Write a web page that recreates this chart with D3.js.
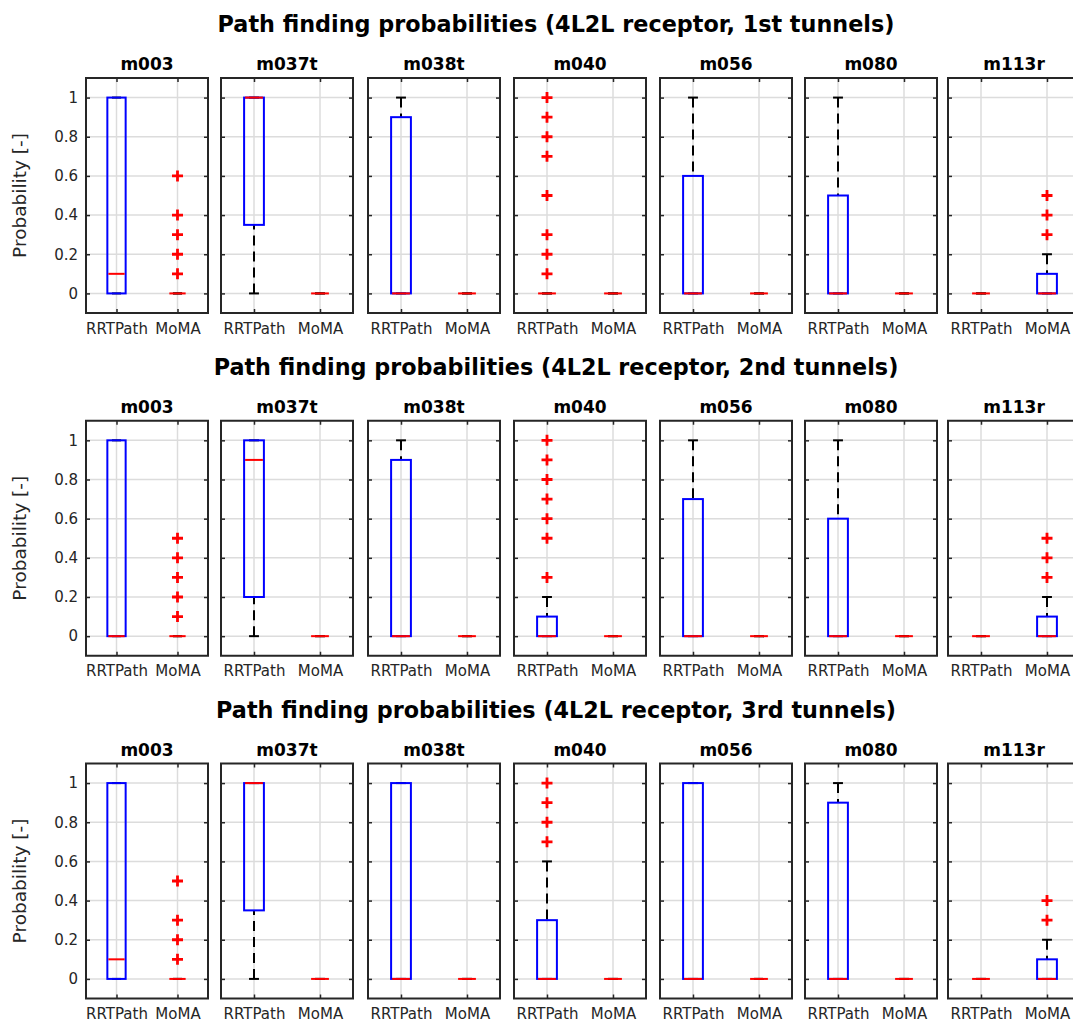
<!DOCTYPE html>
<html>
<head>
<meta charset="utf-8">
<script src="https://cdn.jsdelivr.net/npm/d3@7"></script>
<style>
    body { margin: 0; background: #fff; }
    svg { display: block; font-family: "DejaVu Sans", sans-serif; }
</style>
</head>
<body>
<div id="chart"></div>
<script>
// chart data
const rowTitles = [
    "Path finding probabilities (4L2L receptor, 1st tunnels)",
    "Path finding probabilities (4L2L receptor, 2nd tunnels)",
    "Path finding probabilities (4L2L receptor, 3rd tunnels)"
];
const models = ["m003", "m037t", "m038t", "m040", "m056", "m080", "m113r"];
const methods = ["RRTPath", "MoMA"];
const yTicks = [0, 0.2, 0.4, 0.6, 0.8, 1];

// box stats per model: [RRTPath, MoMA], each [lowWhisker, q1, median, q3, highWhisker]
const boxes1st = [
    [[0, 0, 0.1, 1, 1], [0, 0, 0, 0, 0]],
    [[0, 0.35, 1, 1, 1], [0, 0, 0, 0, 0]],
    [[0, 0, 0, 0.9, 1], [0, 0, 0, 0, 0]],
    [[0, 0, 0, 0, 0], [0, 0, 0, 0, 0]],
    [[0, 0, 0, 0.6, 1], [0, 0, 0, 0, 0]],
    [[0, 0, 0, 0.5, 1], [0, 0, 0, 0, 0]],
    [[0, 0, 0, 0, 0], [0, 0, 0, 0.1, 0.2]]
];
const outliers1st = [
    [[], [0.1, 0.2, 0.3, 0.4, 0.6]],
    [[], []],
    [[], []],
    [[0.1, 0.2, 0.3, 0.5, 0.7, 0.8, 0.9, 1], []],
    [[], []],
    [[], []],
    [[], [0.3, 0.4, 0.5]]
];

const boxes2nd = [
    [[0, 0, 0, 1, 1], [0, 0, 0, 0, 0]],
    [[0, 0.2, 0.9, 1, 1], [0, 0, 0, 0, 0]],
    [[0, 0, 0, 0.9, 1], [0, 0, 0, 0, 0]],
    [[0, 0, 0, 0.1, 0.2], [0, 0, 0, 0, 0]],
    [[0, 0, 0, 0.7, 1], [0, 0, 0, 0, 0]],
    [[0, 0, 0, 0.6, 1], [0, 0, 0, 0, 0]],
    [[0, 0, 0, 0, 0], [0, 0, 0, 0.1, 0.2]]
];
const outliers2nd = [
    [[], [0.1, 0.2, 0.3, 0.4, 0.5]],
    [[], []],
    [[], []],
    [[0.3, 0.5, 0.6, 0.7, 0.8, 0.9, 1], []],
    [[], []],
    [[], []],
    [[], [0.3, 0.4, 0.5]]
];

const boxes3rd = [
    [[0, 0, 0.1, 1, 1], [0, 0, 0, 0, 0]],
    [[0, 0.35, 1, 1, 1], [0, 0, 0, 0, 0]],
    [[0, 0, 0, 1, 1], [0, 0, 0, 0, 0]],
    [[0, 0, 0, 0.3, 0.6], [0, 0, 0, 0, 0]],
    [[0, 0, 0, 1, 1], [0, 0, 0, 0, 0]],
    [[0, 0, 0, 0.9, 1], [0, 0, 0, 0, 0]],
    [[0, 0, 0, 0, 0], [0, 0, 0, 0.1, 0.2]]
];
const outliers3rd = [
    [[], [0.1, 0.2, 0.3, 0.5]],
    [[], []],
    [[], []],
    [[0.7, 0.8, 0.9, 1], []],
    [[], []],
    [[], []],
    [[], [0.3, 0.4]]
];

const rows = [
    { title: rowTitles[0], boxes: boxes1st, outliers: outliers1st },
    { title: rowTitles[1], boxes: boxes2nd, outliers: outliers2nd },
    { title: rowTitles[2], boxes: boxes3rd, outliers: outliers3rd }
];

// layout
const W = 1073, H = 1023;
const panelLeft = [86, 221, 368, 514, 660, 805, 948];
const panelWidth = [122, 132, 132, 132, 132, 132, 132];
const rowTop = 78, rowStep = 342.75, panelHeight = 235;
const boxWidth = 0.3, capWidth = 0.15;
const axisColor = "#262626", gridColor = "#dcdcdc";
const blue = "#0000ff", red = "#ff0000";

const svg = d3.select("#chart").append("svg")
    .attr("width", W)
    .attr("height", H);

rows.forEach((row, r) => {
    const top = rowTop + r * rowStep;

    svg.append("text")
        .attr("x", 556)
        .attr("y", top - 46)
        .attr("text-anchor", "middle")
        .style("font-size", "22.3px")
        .style("font-weight", "bold")
        .style("fill", "#000")
        .text(row.title);

    models.forEach((model, m) => {
        const left = panelLeft[m], w = panelWidth[m];
        const x = d3.scaleLinear().domain([0.5, 2.5]).range([left, left + w]);
        const y = d3.scaleLinear().domain([-0.1, 1.1]).range([top + panelHeight, top]);
        const g = svg.append("g");

        // grid
        g.selectAll(".gy").data(yTicks).enter().append("line")
            .attr("x1", left).attr("x2", left + w)
            .attr("y1", d => y(d)).attr("y2", d => y(d))
            .style("stroke", gridColor).style("stroke-width", 1.5);
        g.selectAll(".gx").data([1, 2]).enter().append("line")
            .attr("x1", d => x(d)).attr("x2", d => x(d))
            .attr("y1", top).attr("y2", top + panelHeight)
            .style("stroke", gridColor).style("stroke-width", 1.5);

        // axes, ticks pointing inward
        const yLeft = d3.axisLeft(y).tickValues(yTicks).tickSize(-4).tickPadding(8)
            .tickFormat(m === 0 ? d3.format("~g") : "");
        const yRight = d3.axisRight(y).tickValues(yTicks).tickSize(-4).tickFormat("");
        const xBottom = d3.axisBottom(x).tickValues([1, 2]).tickSize(-4).tickPadding(10)
            .tickFormat(d => methods[d - 1]);
        const xTop = d3.axisTop(x).tickValues([1, 2]).tickSize(-4).tickFormat("");

        [[yLeft, `translate(${left},0)`], [yRight, `translate(${left + w},0)`],
         [xBottom, `translate(0,${top + panelHeight})`], [xTop, `translate(0,${top})`]]
            .forEach(([axis, tr]) => {
                const a = g.append("g").attr("transform", tr).call(axis);
                a.select(".domain").remove();
                a.selectAll("line").style("stroke", axisColor).style("stroke-width", 1.5);
                a.selectAll("text")
                    .style("font-size", "15px")
                    .style("font-family", "'DejaVu Sans', sans-serif")
                    .style("fill", axisColor);
            });

        // box plots
        methods.forEach((meth, k) => {
            const [lo, q1, med, q3, hi] = row.boxes[m][k];
            const cx = x(k + 1);
            const half = (x(1 + boxWidth / 2) - x(1));
            const capHalf = (x(1 + capWidth / 2) - x(1));

            [[hi, q3], [lo, q1]].forEach(([end, edge]) => {
                g.append("line")
                    .attr("x1", cx).attr("x2", cx)
                    .attr("y1", y(end)).attr("y2", y(edge))
                    .style("stroke", "#000").style("stroke-width", 2)
                    .style("stroke-dasharray", "10,6");
                g.append("line")
                    .attr("x1", cx - capHalf).attr("x2", cx + capHalf)
                    .attr("y1", y(end)).attr("y2", y(end))
                    .style("stroke", "#000").style("stroke-width", 2);
            });

            g.append("rect")
                .attr("x", cx - half).attr("width", 2 * half)
                .attr("y", y(q3)).attr("height", y(q1) - y(q3))
                .style("fill", "none").style("stroke", blue).style("stroke-width", 2);

            g.append("line")
                .attr("x1", cx - half + 1).attr("x2", cx + half - 1)
                .attr("y1", y(med)).attr("y2", y(med))
                .style("stroke", red).style("stroke-width", 2);

            g.selectAll(null).data(row.outliers[m][k]).enter().append("path")
                .attr("d", d => `M${cx - 5.5},${y(d)}H${cx + 5.5}M${cx},${y(d) - 5.5}V${y(d) + 5.5}`)
                .style("stroke", red).style("stroke-width", 2.8).style("fill", "none");
        });

        // axes border
        g.append("rect")
            .attr("x", left).attr("y", top)
            .attr("width", w).attr("height", panelHeight)
            .style("fill", "none").style("stroke", axisColor).style("stroke-width", 2);

        g.append("text")
            .attr("x", left + w / 2)
            .attr("y", top - 8)
            .attr("text-anchor", "middle")
            .style("font-size", "17px")
            .style("font-weight", "bold")
            .style("fill", "#000")
            .text(model);
    });

    svg.append("text")
        .attr("transform", `translate(26,${top + panelHeight / 2}) rotate(-90)`)
        .attr("text-anchor", "middle")
        .style("font-size", "18.5px")
        .style("fill", axisColor)
        .text("Probability [-]");
});
</script>
</body>
</html>
